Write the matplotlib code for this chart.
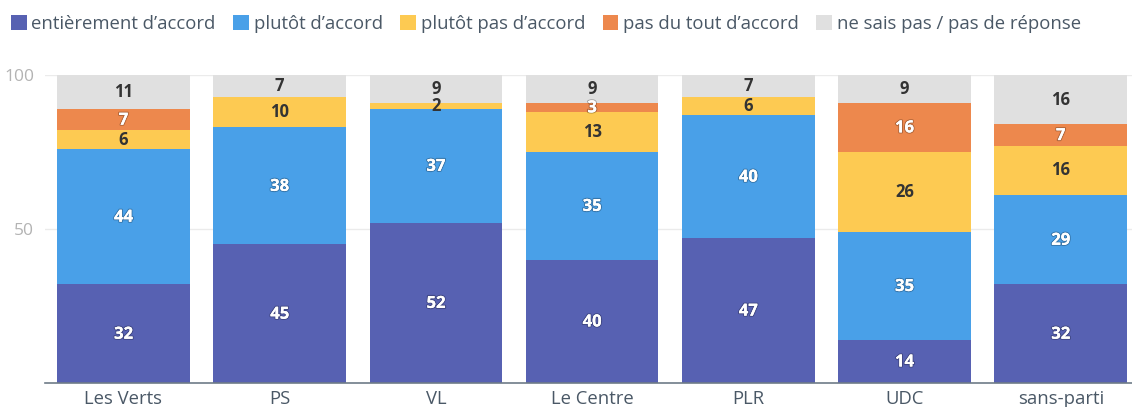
import matplotlib
matplotlib.use("Agg")
import matplotlib.pyplot as plt
import matplotlib.patheffects as pe
from matplotlib.patches import Patch
import numpy as np

categories = ["Les Verts", "PS", "VL", "Le Centre", "PLR", "UDC", "sans-parti"]
series_names = ["entièrement d’accord", "plutôt d’accord", "plutôt pas d’accord",
                "pas du tout d’accord", "ne sais pas / pas de réponse"]
entierement = [32, 45, 52, 40, 47, 14, 32]
plutot = [44, 38, 37, 35, 40, 35, 29]
plutot_pas = [6, 10, 2, 13, 6, 26, 16]
pas_du_tout = [7, 0, 0, 3, 0, 16, 7]
ne_sais_pas = [11, 7, 9, 9, 7, 9, 16]

colors = ["#5761b2", "#49a0e8", "#fdca52", "#ed884d", "#e0e0e0"]
text_colors = ["white", "white", "#333333", "white", "#333333"]

plt.rcParams['font.family'] = ['Open Sans', 'DejaVu Sans']

fig = plt.figure(figsize=(11.32, 4.07), dpi=100)
ax = fig.add_axes([45.4 / 1132, (407 - 383) / 407, (1138.8 - 45.4) / 1132, (383 - 75) / 407])

data = [entierement, plutot, plutot_pas, pas_du_tout, ne_sais_pas]
x = np.arange(len(categories))
bottom = np.zeros(len(categories))
for vals, col, tc in zip(data, colors, text_colors):
    vals = np.array(vals, dtype=float)
    ax.bar(x, vals, bottom=bottom, width=0.85, color=col, zorder=2)
    for xi, v, b in zip(x, vals, bottom):
        if v > 0:
            t = ax.text(xi, b + v / 2, f"{int(v)}", ha="center", va="center",
                        fontsize=12, fontweight="bold", color=tc, zorder=3)
            if tc == "white":
                t.set_path_effects([pe.withStroke(linewidth=1.6, foreground=(0, 0, 0, 0.25)),
                                    pe.Normal()])
    bottom += vals

ax.set_xlim(-0.5, len(categories) - 0.5)
ax.set_ylim(0, 100)
ax.set_yticks([50, 100])
ax.set_yticklabels(["50", "100"])
ax.set_xticks(x)
ax.set_xticklabels(categories)
ax.tick_params(axis="y", length=0, labelsize=12.5, labelcolor="#b3b3b3", pad=8)
ax.tick_params(axis="x", length=0, labelsize=13.3, labelcolor="#4a5866", pad=5)
ax.grid(axis="y", color="#ebebeb", linewidth=1, zorder=0)
ax.set_axisbelow(True)
for s in ["top", "right", "left"]:
    ax.spines[s].set_visible(False)
ax.spines["bottom"].set_color("#6e7b88")
ax.spines["bottom"].set_linewidth(1.2)
ax.spines["bottom"].set_zorder(4)

handles = [Patch(facecolor=c, edgecolor="none") for c in colors]
leg = fig.legend(handles, series_names, loc="upper left", bbox_to_anchor=(0.0, 0.99),
                 ncol=5, frameon=False, fontsize=13.3, handlelength=0.85, handleheight=0.85,
                 handletextpad=0.25, columnspacing=0.95, borderaxespad=0.1, borderpad=0.5)
for t in leg.get_texts():
    t.set_color("#4a5866")

fig.savefig("out.png", dpi=100)
